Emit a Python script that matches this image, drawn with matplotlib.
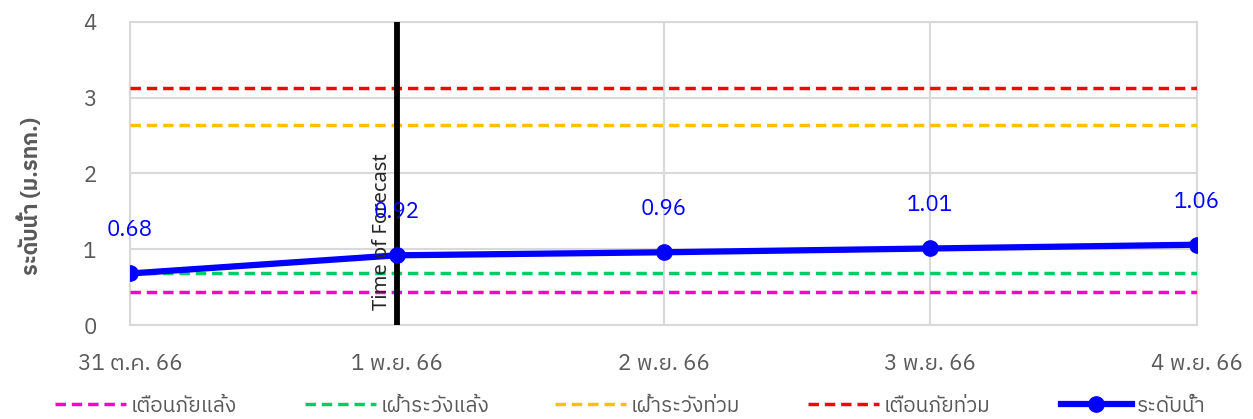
import matplotlib
matplotlib.use("Agg")
import matplotlib.pyplot as plt

# ---- data ----
dates = ["31 ต.ค. 66", "1 พ.ย. 66", "2 พ.ย. 66", "3 พ.ย. 66", "4 พ.ย. 66"]
water_level = [0.68, 0.92, 0.96, 1.01, 1.06]
drought_warning = 0.43      # เตือนภัยแล้ง
drought_watch = 0.68        # เฝ้าระวังแล้ง
flood_watch = 2.64          # เฝ้าระวังท่วม
flood_warning = 3.13        # เตือนภัยท่วม
forecast_index = 1
y_ticks = [0, 1, 2, 3, 4]

FONT = ["IBM Plex Sans Thai", "Noto Sans Thai", "DejaVu Sans"]
GRAY = "#595959"
GRID = "#D9D9D9"

plt.rcParams["font.family"] = FONT

fig = plt.figure(figsize=(12.53, 4.19), dpi=100)
ax = fig.add_axes([130/1253, 1-325/419, (1197-130)/1253, (325-22)/419])

x = list(range(len(dates)))
n = len(dates)

threshold_styles = [
    (drought_warning, "#FF00CC", "เตือนภัยแล้ง"),
    (drought_watch, "#00CC66", "เฝ้าระวังแล้ง"),
    (flood_watch, "#FFC000", "เฝ้าระวังท่วม"),
    (flood_warning, "#FF0000", "เตือนภัยท่วม"),
]
handles = []
for val, col, lab in threshold_styles:
    ln, = ax.plot(x, [val]*n, color=col, lw=2.5, dashes=(3.0, 1.7),
                  label=lab, zorder=3)
    handles.append(ln)

# forecast line
ax.axvline(forecast_index, color="black", lw=4.2, zorder=4)
ax.annotate("Time of Forecast", xy=(forecast_index, 0.2), xytext=(-3.5, 0),
            textcoords="offset points", rotation=90, ha="right", va="bottom",
            fontsize=14.5, color="#262626", family=["Noto Sans", "DejaVu Sans"],
            zorder=6)

wl, = ax.plot(x, water_level, color="#0000FF", lw=4.5, marker="o",
              markersize=11, label="ระดับน้ำ", zorder=5)
handles.append(wl)

for xi, v in zip(x, water_level):
    ax.annotate(f"{v:.2f}", xy=(xi, v), xytext=(0, 31), textcoords="offset points",
                ha="center", va="center", color="#0000FF", fontsize=16, zorder=7)

ax.set_xlim(0, n-1)
ax.set_ylim(0, 4)
ax.set_yticks(y_ticks)
ax.set_xticks(x)
ax.set_xticklabels(dates)
ax.tick_params(axis="both", length=0, colors=GRAY, labelsize=16)
ax.tick_params(axis="y", pad=24)
ax.tick_params(axis="x", pad=20)
ax.grid(True, color=GRID, lw=1.5, zorder=0)
ax.set_axisbelow(True)
for s in ax.spines.values():
    s.set_color(GRID)
    s.set_linewidth(1.5)

fig.text(30/1253, 1-196/419, "ระดับน้ำ (ม.รทก.)", rotation=90, ha="center",
         va="center", fontsize=15.5, fontweight="bold", color=GRAY)

# legend: one entry per slot, evenly spaced like the reference
starts = [55, 305, 555, 808, 1061]
for h, sx in zip(handles, starts):
    leg = fig.legend(handles=[h], loc="center left",
                     bbox_to_anchor=(sx/1253, 1-406/419), frameon=False,
                     fontsize=15, handlelength=3.4, handletextpad=0.25,
                     borderpad=0, borderaxespad=0, numpoints=1)
    for t in leg.get_texts():
        t.set_color(GRAY)

fig.savefig("out.png", dpi=100)
